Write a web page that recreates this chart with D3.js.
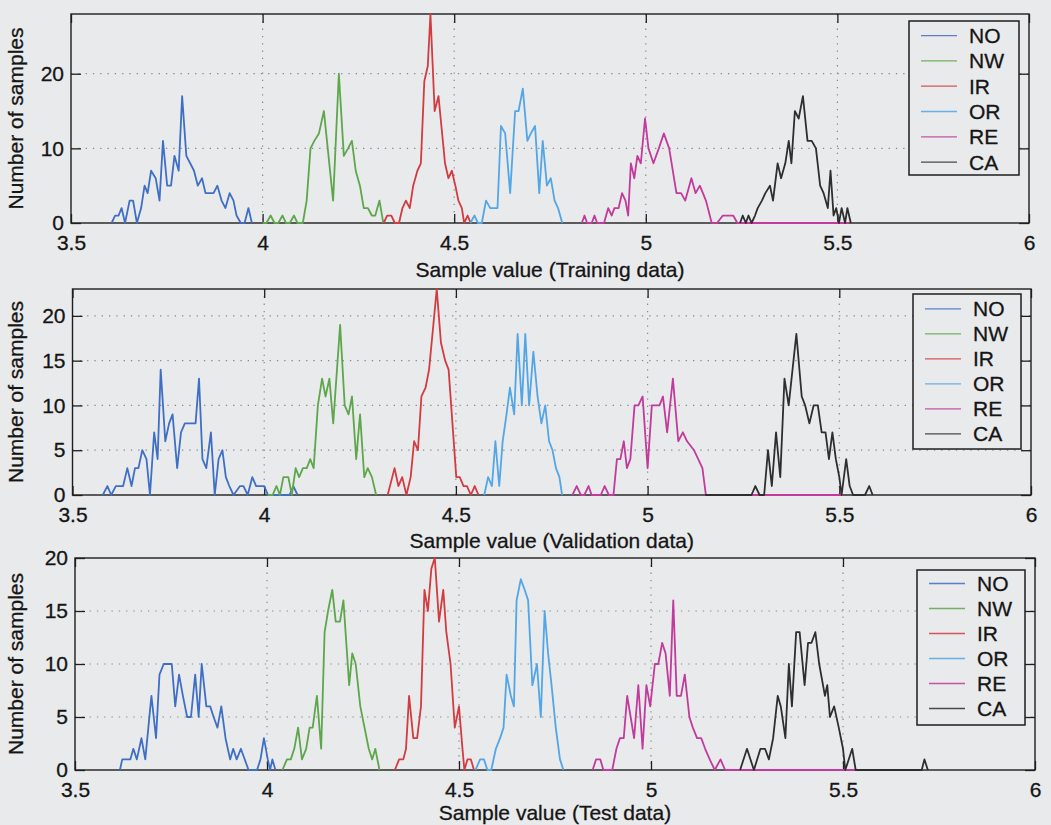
<!DOCTYPE html>
<html><head><meta charset="utf-8">
<script src="https://cdn.jsdelivr.net/npm/d3@7"></script>
<style>
html,body{margin:0;padding:0;background:#e9eaec;}
svg{display:block;font-family:"Liberation Sans",Arial,Helvetica,sans-serif;}
</style></head><body>
<svg id="chart" width="1051" height="825"></svg>
<script>
// ---------------- data ----------------
const categories = ["NO", "NW", "IR", "OR", "RE", "CA"];
const seriesColors = ["#3f6fc5", "#5ea64b", "#d23b40", "#52a6e6", "#c23a9c", "#2e2e2e"];
const xDomain = [3.5, 6];
const xTickValues = [3.5, 4, 4.5, 5, 5.5, 6];
const xTickLabels = ["3.5", "4", "4.5", "5", "5.5", "6"];
const xAxisTitles = ["Sample value (Training data)", "Sample value (Validation data)", "Sample value (Test data)"];
const yAxisTitle = "Number of samples";
const yMaxes = [28, 23, 20];
const yTickValues = [[0, 10, 20], [0, 5, 10, 15, 20], [0, 5, 10, 15, 20]];

// Training data: [sample value, number of samples]
const trainNO = [[3.606,0],[3.615,1],[3.624,1],[3.632,2],[3.641,0],[3.653,3],[3.662,3],[3.672,0],[3.683,2],[3.692,5],[3.700,4],[3.709,7],[3.721,6],[3.731,3],[3.740,11],[3.751,5],[3.761,5],[3.770,9],[3.781,7],[3.790,17],[3.801,9],[3.811,8],[3.821,7],[3.831,5],[3.842,6],[3.851,4],[3.862,4],[3.872,4],[3.882,5],[3.893,3],[3.903,2],[3.914,4],[3.924,3],[3.932,1],[3.943,0],[3.953,0],[3.963,2],[3.972,0]];
const trainNW = [[4.000,0],[4.010,0],[4.021,1],[4.031,0],[4.041,0],[4.052,1],[4.061,0],[4.071,0],[4.082,1],[4.091,0],[4.105,0],[4.115,3],[4.125,10],[4.135,11],[4.147,12],[4.160,15],[4.184,3],[4.199,20],[4.212,9],[4.223,10],[4.233,11],[4.243,7],[4.254,5],[4.264,2],[4.275,2],[4.285,1],[4.294,1],[4.305,3],[4.315,0]];
const trainIR = [[4.316,0],[4.325,1],[4.336,1],[4.345,0],[4.356,0],[4.365,2],[4.374,3],[4.384,2],[4.393,5],[4.404,7],[4.413,8],[4.422,19],[4.431,21],[4.438,28],[4.449,15],[4.459,17],[4.476,8],[4.485,6],[4.494,7],[4.503,5],[4.511,3],[4.520,2],[4.526,0],[4.535,1],[4.543,0]];
const trainOR = [[4.542,0],[4.553,1],[4.562,0],[4.572,0],[4.583,3],[4.594,2],[4.605,2],[4.613,2],[4.622,13],[4.633,12],[4.646,4],[4.659,15],[4.668,15],[4.679,18],[4.691,11],[4.700,12],[4.711,13],[4.722,4],[4.731,11],[4.742,5],[4.752,6],[4.762,3],[4.771,2],[4.782,0]];
const trainRE = [[4.833,0],[4.840,1],[4.847,0],[4.859,0],[4.866,1],[4.873,0],[4.891,0],[4.902,2],[4.911,1],[4.918,2],[4.929,2],[4.938,4],[4.947,3],[4.954,1],[4.961,8],[4.970,6],[4.978,9],[4.987,8],[4.998,14],[5.007,10],[5.020,8],[5.034,10],[5.047,12],[5.061,10],[5.080,4],[5.092,4],[5.103,3],[5.119,6],[5.130,4],[5.141,5],[5.157,3],[5.172,0],[5.186,0],[5.201,1],[5.215,1],[5.228,1],[5.239,0],[5.530,0]];
const trainCA = [[5.246,0],[5.253,1],[5.261,0],[5.268,1],[5.276,0],[5.285,1],[5.292,2],[5.303,3],[5.312,4],[5.324,5],[5.332,3],[5.344,8],[5.353,6],[5.364,8],[5.373,11],[5.380,8],[5.389,15],[5.399,14],[5.410,17],[5.422,11],[5.433,11],[5.444,10],[5.455,5],[5.464,4],[5.475,2],[5.482,7],[5.490,1],[5.497,2],[5.504,0],[5.511,2],[5.520,0],[5.526,2],[5.535,0]];

// Validation data
const valNO = [[3.579,0],[3.591,1],[3.601,0],[3.613,1],[3.623,1],[3.632,1],[3.643,3],[3.654,1],[3.663,3],[3.672,3],[3.682,5],[3.693,4],[3.702,0],[3.713,7],[3.722,4],[3.730,14],[3.742,6],[3.752,8],[3.761,9],[3.773,3],[3.783,7],[3.793,8],[3.803,8],[3.812,8],[3.821,8],[3.830,13],[3.839,4],[3.849,3],[3.861,7],[3.871,0],[3.881,4],[3.891,5],[3.900,2],[3.909,1],[3.920,0],[3.937,1],[3.946,1],[3.957,0],[3.969,2],[3.979,1],[3.993,1],[4.000,1],[4.010,0],[4.066,0],[4.076,1],[4.087,0]];
const valNW = [[4.010,0],[4.022,0],[4.032,1],[4.041,0],[4.050,2],[4.063,2],[4.072,0],[4.082,3],[4.091,2],[4.101,3],[4.111,3],[4.120,4],[4.129,3],[4.140,10],[4.151,13],[4.160,11],[4.170,13],[4.180,8],[4.198,19],[4.210,10],[4.220,9],[4.229,11],[4.240,4],[4.250,9],[4.261,2],[4.270,3],[4.281,2],[4.292,0]];
const valIR = [[4.322,0],[4.340,3],[4.350,1],[4.360,2],[4.371,0],[4.382,2],[4.391,6],[4.401,5],[4.410,11],[4.421,12],[4.430,14],[4.439,18],[4.450,23],[4.461,17],[4.472,15],[4.481,14],[4.501,2],[4.510,2],[4.520,1],[4.529,1],[4.539,0],[4.549,1],[4.559,0]];
const valOR = [[4.574,0],[4.584,2],[4.594,1],[4.603,6],[4.613,1],[4.622,6],[4.632,9],[4.641,12],[4.652,9],[4.661,18],[4.672,10],[4.681,18],[4.691,10],[4.702,16],[4.713,11],[4.723,8],[4.733,10],[4.743,6],[4.752,5],[4.761,3],[4.770,2],[4.777,0]];
const valRE = [[4.804,0],[4.815,1],[4.826,0],[4.835,0],[4.846,1],[4.854,0],[4.878,0],[4.888,1],[4.899,0],[4.911,0],[4.920,4],[4.929,4],[4.938,6],[4.946,3],[4.955,4],[4.966,10],[4.976,10],[4.987,11],[5.000,3],[5.011,10],[5.022,10],[5.031,10],[5.040,11],[5.051,7],[5.066,13],[5.080,6],[5.092,7],[5.103,6],[5.121,5],[5.132,4],[5.143,3],[5.152,0],[5.510,0]];
const valCA = [[5.150,0],[5.271,0],[5.281,1],[5.292,0],[5.304,0],[5.314,5],[5.324,1],[5.335,7],[5.346,2],[5.357,13],[5.368,10],[5.378,14],[5.388,18],[5.402,11],[5.411,10],[5.422,8],[5.433,10],[5.444,10],[5.454,7],[5.464,7],[5.473,4],[5.482,7],[5.491,4],[5.500,2],[5.506,0],[5.518,4],[5.527,1],[5.536,0],[5.567,0],[5.578,1],[5.587,0]];

// Test data
const testNO = [[3.617,0],[3.623,1],[3.644,1],[3.652,2],[3.661,1],[3.673,3],[3.683,1],[3.699,7],[3.711,3],[3.720,9],[3.731,10],[3.741,10],[3.752,10],[3.761,6],[3.771,9],[3.781,7],[3.792,5],[3.802,5],[3.813,9],[3.822,5],[3.830,10],[3.842,6],[3.852,6],[3.861,5],[3.871,4],[3.881,6],[3.892,3],[3.904,1],[3.912,2],[3.921,1],[3.932,2],[3.952,0],[3.974,0],[3.983,1],[3.992,3],[4.002,1],[4.008,0],[4.014,1],[4.022,0]];
const testNW = [[4.040,0],[4.052,1],[4.062,1],[4.071,2],[4.081,4],[4.091,1],[4.102,2],[4.111,4],[4.119,4],[4.130,7],[4.141,2],[4.150,13],[4.159,15],[4.170,17],[4.179,14],[4.190,14],[4.199,16],[4.214,8],[4.222,11],[4.231,10],[4.243,6],[4.254,4],[4.265,2],[4.274,1],[4.282,2],[4.293,0]];
const testIR = [[4.333,0],[4.344,1],[4.355,1],[4.362,2],[4.370,7],[4.381,3],[4.391,3],[4.401,6],[4.410,17],[4.419,15],[4.428,19],[4.437,20],[4.448,14],[4.459,17],[4.467,13],[4.478,10],[4.489,4],[4.500,6],[4.509,2],[4.514,0],[4.522,1],[4.531,1],[4.539,0]];
const testOR = [[4.543,0],[4.555,1],[4.565,1],[4.574,0],[4.584,0],[4.596,2],[4.607,3],[4.616,4],[4.624,9],[4.635,7],[4.643,6],[4.650,16],[4.661,18],[4.671,17],[4.680,16],[4.691,8],[4.703,10],[4.713,5],[4.723,15],[4.732,11],[4.741,8],[4.752,4],[4.763,1],[4.772,0]];
const testRE = [[4.848,0],[4.857,1],[4.868,1],[4.876,0],[4.899,0],[4.910,2],[4.919,3],[4.929,3],[4.938,7],[4.947,5],[4.956,3],[4.967,8],[4.978,2],[4.988,8],[4.998,6],[5.010,10],[5.019,10],[5.029,12],[5.038,11],[5.049,7],[5.058,16],[5.067,7],[5.078,7],[5.088,9],[5.100,5],[5.109,4],[5.120,3],[5.131,3],[5.141,2],[5.153,1],[5.166,0],[5.181,1],[5.193,0],[5.540,0]];
const testCA = [[5.232,0],[5.250,2],[5.268,0],[5.285,2],[5.297,2],[5.307,1],[5.318,3],[5.330,7],[5.338,6],[5.350,3],[5.359,10],[5.367,6],[5.378,13],[5.387,13],[5.400,8],[5.409,12],[5.418,12],[5.428,13],[5.438,10],[5.453,7],[5.459,8],[5.466,5],[5.477,6],[5.489,4],[5.500,2],[5.506,0],[5.524,2],[5.533,0],[5.705,0],[5.712,1],[5.721,0]];

const panelSeries = [
  [trainNO, trainNW, trainIR, trainOR, trainRE, trainCA],
  [valNO, valNW, valIR, valOR, valRE, valCA],
  [testNO, testNW, testIR, testOR, testRE, testCA]
];

// ---------------- layout ----------------
const layouts = [
  {left: 71,   right: 1029, top: 14,  bottom: 223, titleY: 277, leg: {x: 909, y: 21,  w: 110, h: 154, first: 14.6, step: 25.3}},
  {left: 72.5, right: 1031, top: 289, bottom: 495, titleY: 548, leg: {x: 913, y: 294, w: 108, h: 155, first: 14.8, step: 25.0}},
  {left: 75,   right: 1035, top: 558, bottom: 770, titleY: 820, leg: {x: 917, y: 570, w: 108, h: 155, first: 13.5, step: 25.0}}
];
const FONT = 21;
const INK = "#151515";
const svg = d3.select("#chart");

function styleText(sel) {
  sel.attr("font-size", FONT).attr("fill", INK)
    .attr("stroke", INK).attr("stroke-width", 0.3)
    .attr("font-family", '"Liberation Sans",Arial,sans-serif');
}

panelSeries.forEach((series, pi) => {
  const L = layouts[pi];
  const x = d3.scaleLinear().domain(xDomain).range([L.left, L.right]);
  const y = d3.scaleLinear().domain([0, yMaxes[pi]]).range([L.bottom, L.top]);
  const g = svg.append("g");

  // grid (dotted)
  const grid = g.append("g").attr("stroke", "#888").attr("stroke-width", 1.2)
    .attr("stroke-dasharray", "1.3,6").attr("fill", "none");
  grid.selectAll("line.vg").data(xTickValues.filter(v => v > xDomain[0] && v < xDomain[1]))
    .join("line").attr("class", "vg")
    .attr("x1", d => x(d)).attr("x2", d => x(d)).attr("y1", L.top).attr("y2", L.bottom);
  grid.selectAll("line.hg").data(yTickValues[pi].filter(v => v > 0 && v < yMaxes[pi]))
    .join("line").attr("class", "hg")
    .attr("y1", d => y(d)).attr("y2", d => y(d)).attr("x1", L.left).attr("x2", L.right);

  // axes with inward ticks
  const fmt = d => xTickLabels[xTickValues.indexOf(d)];
  const axB = g.append("g").attr("transform", `translate(0,${L.bottom})`)
    .call(d3.axisBottom(x).tickValues(xTickValues).tickFormat(fmt).tickSize(-9).tickPadding(12));
  const axT = g.append("g").attr("transform", `translate(0,${L.top})`)
    .call(d3.axisTop(x).tickValues(xTickValues).tickFormat("").tickSize(-9));
  const axL = g.append("g").attr("transform", `translate(${L.left},0)`)
    .call(d3.axisLeft(y).tickValues(yTickValues[pi]).tickFormat(d3.format("d")).tickSize(-10).tickPadding(7));
  const axR = g.append("g").attr("transform", `translate(${L.right},0)`)
    .call(d3.axisRight(y).tickValues(yTickValues[pi]).tickFormat("").tickSize(-10));
  [axB, axT, axL, axR].forEach(a => {
    a.select(".domain").remove();
    a.selectAll(".tick line").attr("stroke", "#1e1e1e").attr("stroke-width", 1.3);
    styleText(a.selectAll("text"));
  });

  // border
  g.append("rect").attr("x", L.left).attr("y", L.top)
    .attr("width", L.right - L.left).attr("height", L.bottom - L.top)
    .attr("fill", "none").attr("stroke", "#1e1e1e").attr("stroke-width", 1.4);

  // series
  const line = d3.line().x(d => x(d[0])).y(d => y(d[1]));
  g.append("g").selectAll("path").data(series).join("path")
    .attr("d", line).attr("fill", "none")
    .attr("stroke", (d, i) => seriesColors[i]).attr("stroke-width", 1.8)
    .attr("stroke-linejoin", "round");

  // axis titles
  styleText(g.append("text").attr("x", (L.left + L.right) / 2).attr("y", L.titleY)
    .attr("text-anchor", "middle").text(xAxisTitles[pi]));
  styleText(g.append("text")
    .attr("transform", `translate(23,${(L.top + L.bottom) / 2}) rotate(-90)`)
    .attr("text-anchor", "middle").text(yAxisTitle));

  // legend
  const lg = g.append("g").attr("transform", `translate(${L.leg.x},${L.leg.y})`);
  lg.append("rect").attr("width", L.leg.w).attr("height", L.leg.h)
    .attr("fill", "#e9eaec").attr("stroke", "#1e1e1e").attr("stroke-width", 1.5);
  const items = lg.selectAll("g.item").data(categories).join("g").attr("class", "item")
    .attr("transform", (d, i) => `translate(0,${L.leg.first + i * L.leg.step})`);
  items.append("line").attr("x1", 12).attr("x2", 48).attr("y1", 0).attr("y2", 0)
    .attr("stroke", (d, i) => seriesColors[i]).attr("stroke-width", 1.3).attr("stroke-opacity", 0.85);
  styleText(items.append("text").attr("x", 60).attr("dy", "0.36em").text(d => d));
});
</script>
</body></html>
